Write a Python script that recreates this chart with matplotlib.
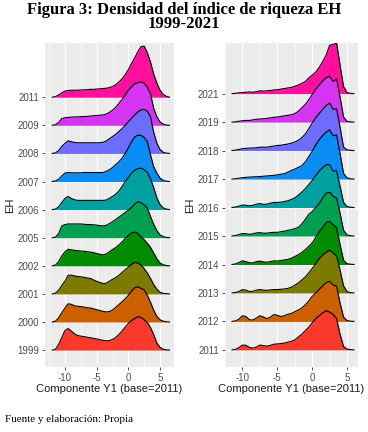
import matplotlib
matplotlib.use('Agg')
import matplotlib.pyplot as plt
import numpy as np

plt.rcParams['font.family'] = ['Liberation Sans', 'DejaVu Sans']

# ridge colours, bottom to top
colors = ['#F8392B', '#CC6000', '#7D7A00', '#008B00', '#00A050',
          '#00A0A0', '#0A8CF5', '#6E6BFF', '#D535F0', '#FF0F9E']

# left panel: 1999-2011
years_a = ['1999', '2000', '2001', '2002', '2005', '2006', '2007', '2008', '2009', '2011']
x_a = np.arange(-12, 6.51, 0.5)
dens_1999 = [0, 0.03, 0.2, 0.45, 0.7, 0.77, 0.68, 0.58, 0.52, 0.5, 0.48, 0.46, 0.44, 0.42, 0.4, 0.37, 0.35, 0.33, 0.34,
             0.38, 0.45, 0.55, 0.68, 0.82, 0.95, 1.05, 1.13, 1.19, 1.17, 1.08, 0.98, 0.8, 0.55, 0.25, 0.1, 0.03, 0.01, 0]
dens_2000 = [0, 0.03, 0.15, 0.33, 0.5, 0.65, 0.63, 0.58, 0.56, 0.55, 0.53, 0.51, 0.5, 0.47, 0.44, 0.41, 0.38, 0.36, 0.37,
             0.43, 0.52, 0.62, 0.72, 0.83, 0.95, 1.1, 1.22, 1.25, 1.2, 1.14, 0.95, 0.7, 0.42, 0.2, 0.08, 0.03, 0.01, 0]
dens_2001 = [0, 0.03, 0.13, 0.3, 0.45, 0.66, 0.67, 0.64, 0.62, 0.61, 0.59, 0.57, 0.55, 0.5, 0.45, 0.41, 0.37, 0.38, 0.45,
             0.52, 0.58, 0.66, 0.76, 0.86, 0.95, 1.05, 1.12, 1.1, 1.02, 0.9, 0.74, 0.55, 0.33, 0.17, 0.06, 0.02, 0.01, 0]
dens_2002 = [0, 0.03, 0.15, 0.35, 0.5, 0.59, 0.57, 0.55, 0.54, 0.53, 0.52, 0.5, 0.49, 0.47, 0.44, 0.41, 0.39, 0.42, 0.5,
             0.58, 0.65, 0.74, 0.85, 0.97, 1.08, 1.17, 1.21, 1.15, 1.03, 0.93, 0.8, 0.66, 0.45, 0.25, 0.1, 0.04, 0.01, 0]
dens_2005 = [0, 0.02, 0.15, 0.42, 0.47, 0.49, 0.49, 0.49, 0.49, 0.49, 0.48, 0.47, 0.47, 0.46, 0.45, 0.43, 0.42, 0.44, 0.5,
             0.57, 0.65, 0.73, 0.81, 0.9, 0.98, 1.08, 1.2, 1.28, 1.25, 1.17, 1.05, 0.75, 0.48, 0.25, 0.1, 0.04, 0.01, 0]
dens_2006 = [0, 0.02, 0.1, 0.25, 0.4, 0.47, 0.4, 0.35, 0.33, 0.33, 0.33, 0.33, 0.33, 0.33, 0.33, 0.33, 0.33, 0.34, 0.4,
             0.47, 0.55, 0.66, 0.82, 1.0, 1.15, 1.3, 1.4, 1.46, 1.48, 1.42, 1.32, 1.1, 0.78, 0.42, 0.18, 0.06, 0.02, 0]
dens_2007 = [0, 0.02, 0.08, 0.2, 0.3, 0.32, 0.31, 0.31, 0.31, 0.31, 0.32, 0.32, 0.32, 0.32, 0.32, 0.32, 0.32, 0.36, 0.42,
             0.5, 0.6, 0.7, 0.83, 1.0, 1.2, 1.42, 1.58, 1.65, 1.64, 1.57, 1.42, 0.95, 0.52, 0.3, 0.12, 0.04, 0.01, 0]
dens_2008 = [0, 0.02, 0.1, 0.25, 0.36, 0.45, 0.42, 0.39, 0.38, 0.38, 0.38, 0.38, 0.38, 0.38, 0.38, 0.38, 0.4, 0.44, 0.52,
             0.6, 0.68, 0.78, 0.88, 1.0, 1.13, 1.25, 1.37, 1.48, 1.55, 1.57, 1.5, 1.3, 0.75, 0.36, 0.14, 0.04, 0.01, 0]
dens_2009 = [0, 0.02, 0.1, 0.24, 0.27, 0.28, 0.29, 0.3, 0.3, 0.31, 0.31, 0.32, 0.33, 0.34, 0.35, 0.36, 0.37, 0.4, 0.46,
             0.54, 0.64, 0.78, 0.92, 1.08, 1.25, 1.38, 1.48, 1.52, 1.54, 1.5, 1.35, 1.12, 0.6, 0.3, 0.12, 0.04, 0.01, 0]
dens_2011a = [0, 0.02, 0.08, 0.15, 0.22, 0.24, 0.25, 0.25, 0.25, 0.26, 0.26, 0.27, 0.28, 0.28, 0.29, 0.3, 0.31, 0.32, 0.34,
              0.38, 0.44, 0.54, 0.65, 0.8, 0.98, 1.2, 1.4, 1.62, 1.8, 1.82, 1.58, 1.25, 0.82, 0.5, 0.25, 0.1, 0.03, 0]
dens_a = [dens_1999, dens_2000, dens_2001, dens_2002, dens_2005,
          dens_2006, dens_2007, dens_2008, dens_2009, dens_2011a]

# right panel: 2011-2021
years_b = ['2011', '2012', '2013', '2014', '2015', '2016', '2017', '2018', '2019', '2021']
x_b = np.arange(-11.5, 6.01, 0.5)
dens_2011b = [0, 0.02, 0.08, 0.17, 0.16, 0.09, 0.06, 0.1, 0.17, 0.15, 0.13, 0.16, 0.2, 0.21, 0.22, 0.24, 0.27, 0.3,
              0.35, 0.45, 0.55, 0.67, 0.8, 0.95, 1.1, 1.2, 1.3, 1.38, 1.33, 1.25, 1.1, 0.55, 0.12, 0.03, 0.01, 0]
dens_2012 = [0, 0.02, 0.08, 0.2, 0.17, 0.06, 0.05, 0.12, 0.2, 0.16, 0.1, 0.15, 0.24, 0.22, 0.17, 0.2, 0.25, 0.28,
             0.34, 0.4, 0.47, 0.58, 0.72, 0.88, 1.0, 1.12, 1.25, 1.36, 1.41, 1.28, 1.24, 0.65, 0.15, 0.03, 0.01, 0]
dens_2013 = [0, 0.02, 0.05, 0.12, 0.1, 0.05, 0.06, 0.1, 0.12, 0.1, 0.09, 0.11, 0.12, 0.12, 0.13, 0.14, 0.16, 0.2,
             0.27, 0.35, 0.45, 0.56, 0.7, 0.86, 1.03, 1.21, 1.33, 1.43, 1.5, 1.4, 1.3, 0.8, 0.25, 0.05, 0.01, 0]
dens_2014 = [0, 0.02, 0.07, 0.13, 0.1, 0.06, 0.06, 0.1, 0.12, 0.09, 0.08, 0.1, 0.13, 0.12, 0.14, 0.16, 0.18, 0.22,
             0.28, 0.34, 0.42, 0.52, 0.63, 0.76, 0.95, 1.15, 1.3, 1.48, 1.52, 1.4, 1.3, 0.7, 0.15, 0.03, 0.01, 0]
dens_2015 = [0, 0.02, 0.05, 0.09, 0.08, 0.06, 0.08, 0.11, 0.12, 0.1, 0.1, 0.12, 0.13, 0.13, 0.15, 0.17, 0.2, 0.22,
             0.26, 0.3, 0.42, 0.58, 0.76, 0.86, 1.0, 1.14, 1.33, 1.5, 1.54, 1.4, 1.33, 0.8, 0.2, 0.04, 0.01, 0]
dens_2016 = [0, 0.02, 0.05, 0.09, 0.08, 0.06, 0.08, 0.12, 0.14, 0.11, 0.12, 0.15, 0.18, 0.18, 0.19, 0.21, 0.24, 0.28,
             0.34, 0.43, 0.54, 0.66, 0.8, 0.95, 1.12, 1.28, 1.4, 1.5, 1.5, 1.28, 1.3, 0.75, 0.18, 0.04, 0.01, 0]
dens_2017 = [0, 0.01, 0.03, 0.05, 0.06, 0.07, 0.08, 0.08, 0.09, 0.1, 0.11, 0.12, 0.13, 0.15, 0.17, 0.19, 0.24, 0.3,
             0.35, 0.41, 0.47, 0.6, 0.78, 0.98, 1.2, 1.38, 1.53, 1.65, 1.73, 1.52, 1.55, 0.9, 0.2, 0.04, 0.01, 0]
dens_2018 = [0, 0.02, 0.04, 0.07, 0.08, 0.09, 0.09, 0.1, 0.12, 0.12, 0.12, 0.14, 0.16, 0.18, 0.19, 0.21, 0.23, 0.26,
             0.3, 0.36, 0.45, 0.58, 0.76, 0.97, 1.15, 1.3, 1.45, 1.58, 1.67, 1.45, 1.47, 0.82, 0.12, 0.03, 0.01, 0]
dens_2019 = [0, 0.01, 0.03, 0.05, 0.06, 0.06, 0.08, 0.1, 0.11, 0.12, 0.13, 0.15, 0.17, 0.18, 0.2, 0.22, 0.24, 0.26,
             0.3, 0.38, 0.5, 0.62, 0.78, 0.97, 1.15, 1.3, 1.45, 1.56, 1.61, 1.43, 1.52, 0.88, 0.18, 0.03, 0.01, 0]
dens_2021 = [0, 0.01, 0.03, 0.04, 0.05, 0.06, 0.05, 0.07, 0.1, 0.09, 0.1, 0.11, 0.13, 0.14, 0.16, 0.18, 0.2, 0.22,
             0.26, 0.3, 0.36, 0.42, 0.55, 0.65, 0.75, 0.92, 1.12, 1.35, 1.7, 1.73, 1.78, 1.0, 0.25, 0.04, 0.01, 0]
dens_b = [dens_2011b, dens_2012, dens_2013, dens_2014, dens_2015,
          dens_2016, dens_2017, dens_2018, dens_2019, dens_2021]

fig = plt.figure(figsize=(3.68, 4.32), dpi=100)


def ridges(ax, x, dens, years, xlim, ylim):
    ax.set_facecolor('#EBEBEB')
    for s in ax.spines.values():
        s.set_visible(False)
    ax.set_xlim(xlim)
    ax.set_ylim(ylim)
    ax.set_xticks([-10, -5, 0, 5])
    ax.set_xticks([-12.5, -7.5, -2.5, 2.5], minor=True)
    ax.set_xticklabels(['-10', '-5', '0', '5'])
    ax.set_yticks(range(len(years)))
    ax.set_yticklabels(years)
    ax.grid(which='major', color='white', lw=0.9)
    ax.grid(which='minor', axis='x', color='white', lw=0.45)
    ax.set_axisbelow(True)
    ax.tick_params(which='major', length=2.5, width=0.6, color='#333333',
                   labelcolor='#4D4D4D', labelsize=7, pad=1.5)
    ax.tick_params(which='minor', length=0)
    # top ridge first so lower ones sit in front
    for i in range(len(years) - 1, -1, -1):
        h = np.array(dens[i])
        ax.fill_between(x, i, i + h, color=colors[i], lw=0, zorder=3)
        ax.plot(x, i + h, color='black', lw=0.8, zorder=3)
    ax.set_xlabel('Componente Y1 (base=2011)', fontsize=8, color='#1A1A1A', labelpad=1)
    ax.set_ylabel('EH', fontsize=8, color='#1A1A1A', labelpad=2)


ax1 = fig.add_axes([45 / 368, 1 - 367 / 432, 129 / 368, 324 / 432])
ridges(ax1, x_a, dens_a, years_a, (-13.15, 7.2), (-0.6, 10.93))
ax2 = fig.add_axes([225 / 368, 1 - 367 / 432, 133 / 368, 324 / 432])
ridges(ax2, x_b, dens_b, years_b, (-12.43, 6.57), (-0.6, 10.78))

fig.text(0.5, 1 - 17 / 432, 'Figura 3: Densidad del índice de riqueza EH\n1999-2021', ha='center', va='center',
         family='Liberation Serif', weight='bold', fontsize=12, linespacing=0.85)
fig.text(5 / 368, 1 - 420 / 432, 'Fuente y elaboración: Propia', ha='left', va='center',
         family='Liberation Serif', fontsize=8)

fig.savefig('out.png', dpi=100)
